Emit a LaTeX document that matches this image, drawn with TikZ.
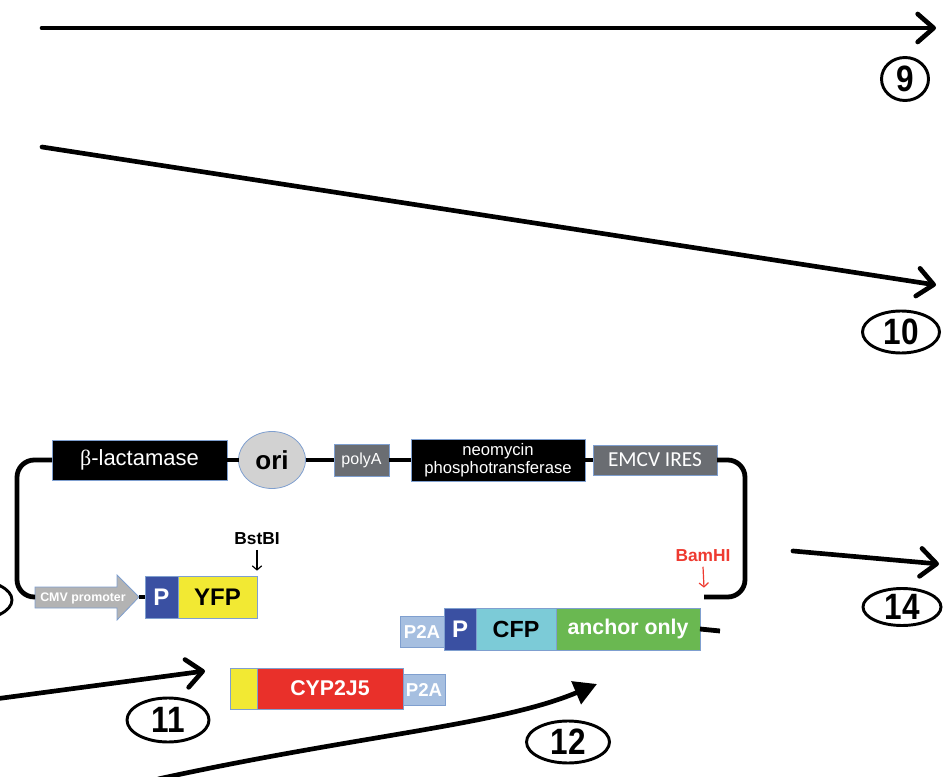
\documentclass[tikz,border=0pt]{standalone}
\usepackage{fontspec}
\setmainfont{Liberation Sans}
\newfontfamily\calibri{Carlito}
\newfontfamily\greekserif{Liberation Serif}
\newfontfamily\narrowbold[FakeStretch=0.86]{Liberation Sans Bold}
\usetikzlibrary{arrows.meta,shapes.geometric}

\definecolor{bordc}{HTML}{7F9FCF}
\definecolor{darkgray}{HTML}{6A6D72}
\definecolor{origray}{HTML}{D2D2D2}
\definecolor{cmvgray}{HTML}{B3B3B3}
\definecolor{pblue}{HTML}{3A50A2}
\definecolor{yfpyellow}{HTML}{F2E933}
\definecolor{cfpcyan}{HTML}{7CCBD7}
\definecolor{anchgreen}{HTML}{6AB851}
\definecolor{cypred}{HTML}{E9302A}
\definecolor{p2alight}{HTML}{A6BFE0}
\definecolor{bamred}{HTML}{EE3A30}

% box given by its corners (pixel grid, y downwards)
\newcommand\genebox[7]{%
  \node[gene,#6,minimum width={(#4-#2)*0.75pt},minimum height={(#5-#3)*0.75pt}]
    (#1) at ({(#2+#4)/2},{(#3+#5)/2}) {#7};}

\tikzset{
  gene/.style={draw=bordc,line width=0.6pt,inner sep=0pt,outer sep=0pt},
  bbline/.style={line width=3.6pt},
  backbone/.style={bbline,rounded corners=13pt},
  flow/.style={line width=3.5pt,line cap=round,
    -{Straight Barb[length=12pt,width=21pt,line cap=round,line join=round]}},
  flowfilled/.style={line width=3.5pt,
    -{Triangle[length=17pt,width=18pt]}},
  numlbl/.style={ellipse,draw,line width=2.2pt,inner sep=0pt,
    font=\narrowbold\fontsize{27.5}{27.5}\selectfont},
  siteArrow/.style={line width=0.9pt,-{Straight Barb[length=3pt,width=7pt]}},
}

\begin{document}
\begin{tikzpicture}[x=0.75pt,y=-0.75pt]
\useasboundingbox (0,0) rectangle (943,777);
\clip (0,0) rectangle (943,777);

% ---- long process arrows and step numbers ----
\coordinate (a9s) at (42,28);   \coordinate (a9e) at (936,28);
\draw[flow] (a9s) -- (a9e);
\node[numlbl,minimum width=47*0.75pt,minimum height=43*0.75pt] (n9) at (905,79) {9};

\coordinate (a10s) at (42,147); \coordinate (a10e) at (936,285);
\draw[flow] (a10s) -- (a10e);
\node[numlbl,minimum width=77*0.75pt,minimum height=42*0.75pt] (n10) at (901,332) {10};

\coordinate (a14s) at (793,551); \coordinate (a14e) at (939,564);
\draw[flow] (a14s) -- (a14e);
\node[numlbl,minimum width=78*0.75pt,minimum height=37*0.75pt] (n14) at (902,607) {14};

\node[numlbl,minimum width=80*0.75pt,minimum height=40*0.75pt] (n13) at (-28,600) {};

\coordinate (a11s) at (-5,699); \coordinate (a11e) at (205,671);
\draw[flow] (a11s) -- (a11e);
\node[numlbl,minimum width=82*0.75pt,minimum height=44*0.75pt] (n11) at (168,720) {11};

\coordinate (a12s) at (158,779); \coordinate (a12e) at (597,684);
\draw[flowfilled] (a12s) .. controls (360,735) and (500,725) .. (a12e);
\node[numlbl,minimum width=83*0.75pt,minimum height=42*0.75pt] (n12) at (568,742) {12};

% ---- plasmid backbone elements ----
\genebox{blac}{52}{440}{227}{480}{fill=black,text=white,font=\fontsize{16.5}{16.5}\selectfont}{{\greekserif β}-lactamase}
\node[gene,ellipse,fill=origray,minimum width=67*0.75pt,minimum height=57*0.75pt,
  font=\bfseries\fontsize{19.5}{19.5}\selectfont] (ori) at (272,460) {ori};
\genebox{polya}{334}{444}{389}{476}{fill=darkgray,text=white,font=\fontsize{12}{12}\selectfont}{polyA}
\genebox{neo}{411}{439}{585}{481}{fill=black,text=white,align=center,
  font=\fontsize{12.5}{13.5}\selectfont}{neomycin\\phosphotransferase}
\genebox{emcv}{593}{445}{717}{475}{fill=darkgray,text=white,font=\calibri\fontsize{16}{16}\selectfont}{EMCV IRES}

% CMV promoter arrow
\draw[draw=bordc,line width=0.6pt,fill=cmvgray]
  (35,587) -- (117,587) -- (117,575) -- (139,597) -- (117,620) -- (117,608) -- (35,608) -- cycle;
\node[text=white,font=\bfseries\fontsize{9.3}{9.3}\selectfont] (cmv) at (83,598) {CMV promoter};
\coordinate (cmvtail) at (35,597);
\coordinate (cmvtip) at (139,597);

\genebox{p1}{145}{576}{178}{618}{fill=pblue,text=white,font=\bfseries\fontsize{18}{18}\selectfont}{P}
\genebox{yfp}{178}{576}{257}{618}{fill=yfpyellow,font=\bfseries\fontsize{18}{18}\selectfont}{YFP}

% CFP cassette
\genebox{p2a1}{400}{616}{444}{647}{fill=p2alight,text=white,font=\bfseries\fontsize{14}{14}\selectfont}{P2A}
\genebox{p2}{444}{608}{476}{650}{fill=pblue,text=white,font=\bfseries\fontsize{18}{18}\selectfont}{P}
\genebox{cfp}{476}{608}{556}{650}{fill=cfpcyan,font=\bfseries\fontsize{17.5}{17.5}\selectfont}{CFP}
\genebox{anch}{556}{608}{700}{650}{fill=anchgreen,text=white,font=\bfseries\fontsize{16}{16}\selectfont}{anchor only}
\coordinate (anchend) at (720,631);

% CYP2J5 insert
\genebox{yins}{230}{668}{257}{709}{fill=yfpyellow}{}
\genebox{cyp}{257}{668}{403}{709}{fill=cypred,text=white,font=\bfseries\fontsize{16}{16}\selectfont}{CYP2J5}
\genebox{p2a2}{403}{674}{445}{705}{fill=p2alight,text=white,font=\bfseries\fontsize{14}{14}\selectfont}{P2A}

% backbone lines
\coordinate (bamend) at (704,597);
\begin{scope}[on background layer/.try]
\draw[backbone] (blac.west) -- (17,460) -- (17,597) -- (cmvtail);
\draw[bbline] (blac.east) -- (ori.west);
\draw[bbline] (ori.east) -- (polya.west);
\draw[bbline] (polya.east) -- (neo.west);
\draw[bbline] (neo.east) -- (emcv.west);
\draw[backbone] (emcv.east) -- (745,460) -- (745,597) -- (bamend);
\draw[bbline] (cmvtip) -- (p1.west);
\draw[bbline] (anch.east) -- (anchend);
\end{scope}

% restriction sites
\node[font=\bfseries\fontsize{13}{13}\selectfont] (bst) at (257,539) {BstBI};
\draw[siteArrow] (bst.south) -- ([yshift=4pt]yfp.north east);
\node[text=bamred,font=\bfseries\fontsize{13}{13}\selectfont] (bam) at (703,556) {BamHI};
\draw[siteArrow,bamred] (bam.south) -- ([yshift=7pt]bamend);
\end{tikzpicture}
\end{document}
